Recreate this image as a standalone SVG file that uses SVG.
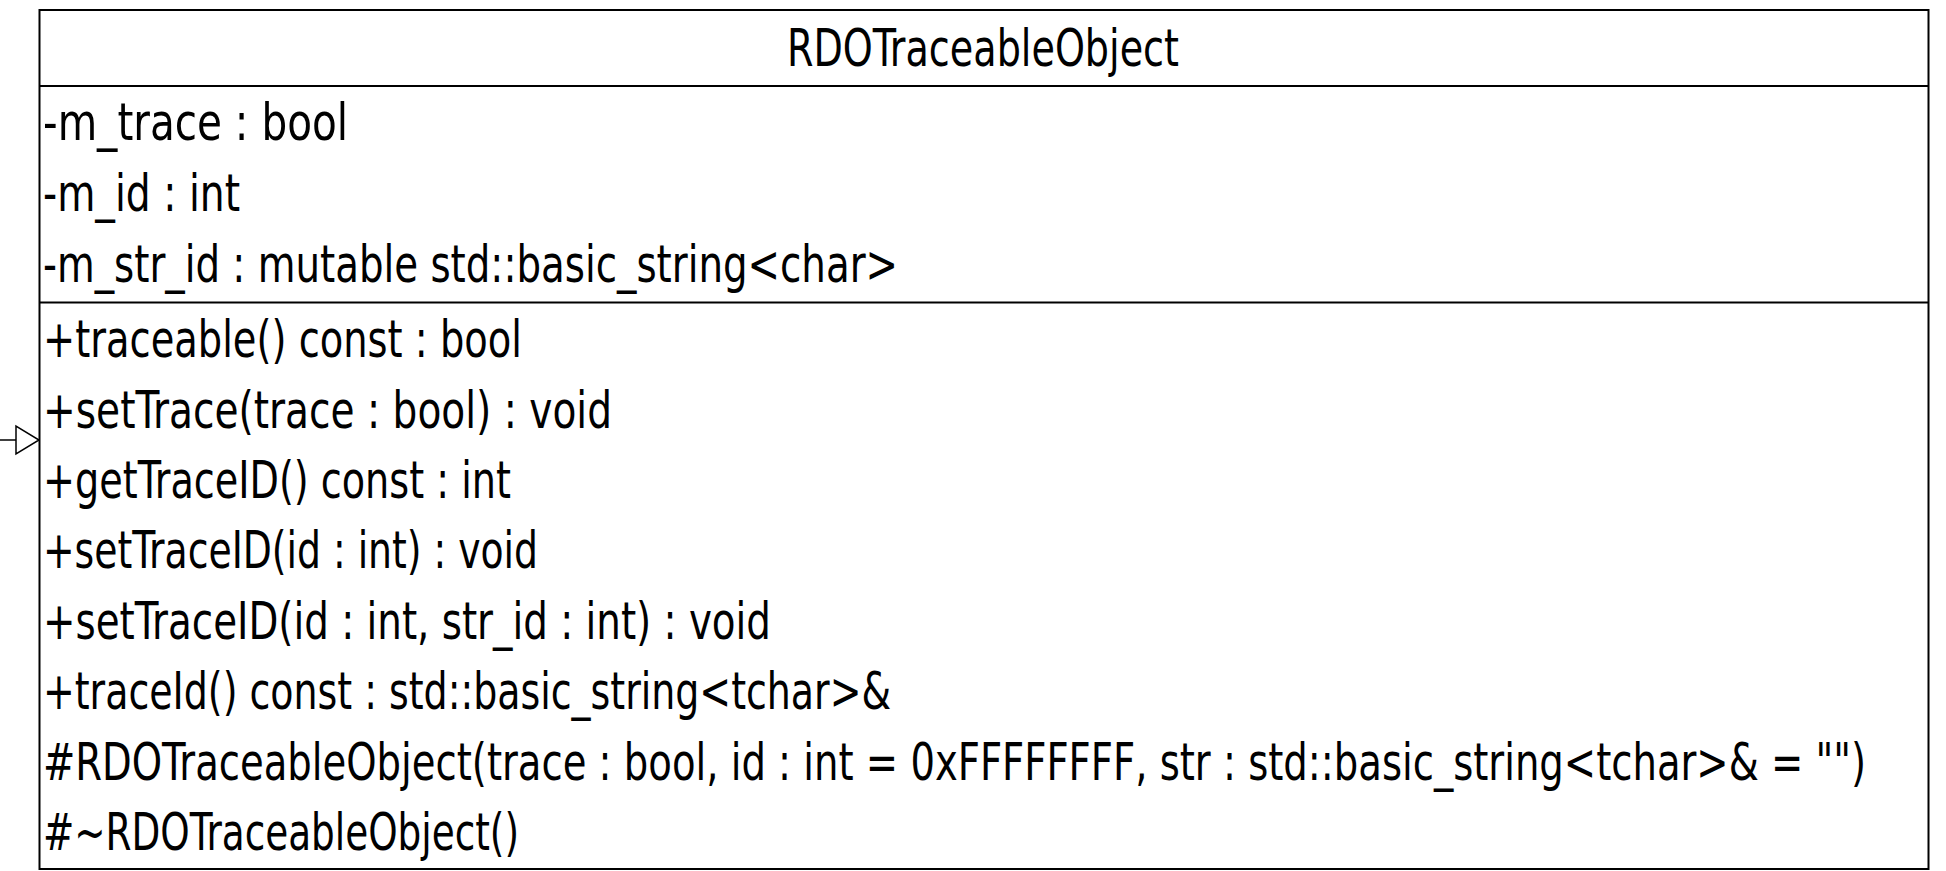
<svg xmlns="http://www.w3.org/2000/svg" width="1946" height="871" viewBox="0 0 1946 871">
<style>
.box{fill:#fff;stroke:#000;stroke-width:2}
.div{stroke:#000;stroke-width:2}
.t{font-family:"Liberation Sans Narrow","DejaVu Sans Condensed","Liberation Sans",sans-serif;font-size:52px;fill:#000}
.c{stroke:#000;stroke-width:1.5;fill:none}
.tri{fill:#fff;stroke:#000;stroke-width:1.5}
</style>
<g id="connectors">
<line class="c" x1="0" y1="440" x2="16" y2="440"/>
<polygon class="tri" points="16,426 16,454 39,440"/>
</g>
<g id="RDOTraceableObject">
<rect class="box" x="39.5" y="10" width="1889" height="859"/>
<line class="div" x1="39.5" y1="86" x2="1928.5" y2="86"/>
<line class="div" x1="39.5" y1="302.5" x2="1928.5" y2="302.5"/>
<text class="t" x="983" y="66" text-anchor="middle" textLength="392" lengthAdjust="spacingAndGlyphs">RDOTraceableObject</text>
<text class="t" x="43" y="140" textLength="305" lengthAdjust="spacingAndGlyphs">-m_trace : bool</text>
<text class="t" x="43" y="210.7" textLength="197" lengthAdjust="spacingAndGlyphs">-m_id : int</text>
<text class="t" x="43" y="281.7" textLength="855" lengthAdjust="spacingAndGlyphs">-m_str_id : mutable std::basic_string&lt;char&gt;</text>
<text class="t" x="43" y="357.3" textLength="479" lengthAdjust="spacingAndGlyphs">+traceable() const : bool</text>
<text class="t" x="43" y="427.7" textLength="569" lengthAdjust="spacingAndGlyphs">+setTrace(trace : bool) : void</text>
<text class="t" x="43" y="498.3" textLength="468" lengthAdjust="spacingAndGlyphs">+getTraceID() const : int</text>
<text class="t" x="43" y="568.3" textLength="495" lengthAdjust="spacingAndGlyphs">+setTraceID(id : int) : void</text>
<text class="t" x="43" y="638.5" textLength="728" lengthAdjust="spacingAndGlyphs">+setTraceID(id : int, str_id : int) : void</text>
<text class="t" x="43" y="708.5" textLength="848" lengthAdjust="spacingAndGlyphs">+traceId() const : std::basic_string&lt;tchar&gt;&amp;</text>
<text class="t" x="43" y="779.5" textLength="1823" lengthAdjust="spacingAndGlyphs">#RDOTraceableObject(trace : bool, id : int = 0xFFFFFFFF, str : std::basic_string&lt;tchar&gt;&amp; = "")</text>
<text class="t" x="43" y="850" textLength="476" lengthAdjust="spacingAndGlyphs">#~RDOTraceableObject()</text>
</g>
</svg>
